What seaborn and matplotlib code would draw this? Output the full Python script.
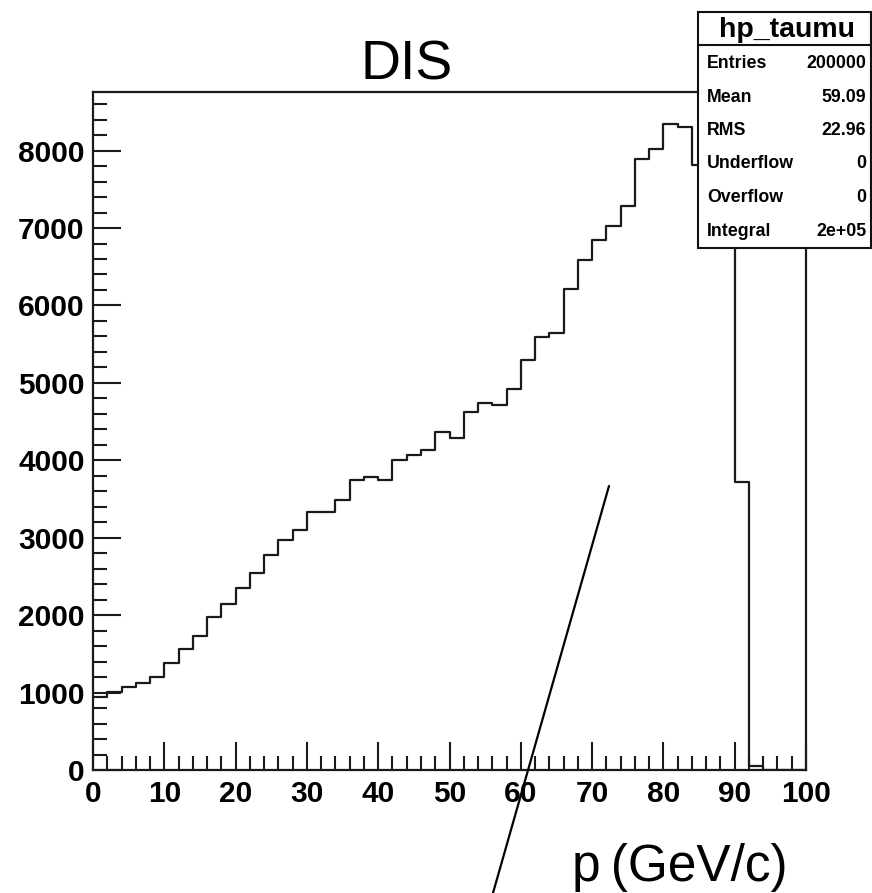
import numpy as np
import pandas as pd
import matplotlib
matplotlib.use("Agg")
import matplotlib.pyplot as plt
from matplotlib.patches import Rectangle
from matplotlib.lines import Line2D
from matplotlib.ticker import MultipleLocator
import seaborn as sns

# ---- data ----
bin_edges = list(range(0, 102, 2))  # 50 bins, width 2 GeV/c
bin_counts = [942, 1006, 1075, 1118, 1196, 1376, 1561, 1725, 1978, 2146,
              2348, 2538, 2774, 2968, 3097, 3330, 3330, 3484, 3742, 3780,
              3742, 4000, 4065, 4138, 4366, 4292, 4619, 4735, 4714, 4925,
              5290, 5587, 5638, 6219, 6593, 6848, 7027, 7285, 7893, 8026,
              8340, 8301, 7816, 8150, 8100, 3720, 55, 0, 0, 0]
title = "DIS"
xlabel = "p\u2009(GeV/c)"
stats_title = "hp_taumu"
stats_names = ["Entries", "Mean", "RMS", "Underflow", "Overflow", "Integral"]
stats_values = ["200000", "59.09", "22.96", "0", "0", "2e+05"]

sns.set_theme(style="white")
plt.rcParams["font.family"] = ["Liberation Sans", "DejaVu Sans"]
plt.rcParams["text.color"] = "black"
plt.rcParams["xtick.color"] = "black"
plt.rcParams["ytick.color"] = "black"
plt.rcParams["xtick.labelcolor"] = "black"
plt.rcParams["ytick.labelcolor"] = "black"

W, H = 872, 893
fig = plt.figure(figsize=(W / 100, H / 100), dpi=100)
fig.patch.set_facecolor("white")

def fx(px):
    return px / W

def fy(py):
    return 1 - py / H

ax = fig.add_axes([fx(93), fy(770), fx(806) - fx(93), fy(92) - fy(770)])

edges_arr = np.array(bin_edges, dtype=float)
centers = (edges_arr[:-1] + edges_arr[1:]) / 2
df = pd.DataFrame({"p": centers, "n": np.array(bin_counts, dtype=float)})
sns.histplot(data=df, x="p", weights="n", bins=bin_edges, element="step",
             fill=False, color="#1a1a1a", linewidth=1.6, ax=ax)

ax.set_xlim(0, 100)
ax.set_ylim(0, 1.05 * max(bin_counts))
ax.set_xlabel("")
ax.set_ylabel("")

ax.xaxis.set_major_locator(MultipleLocator(10))
ax.xaxis.set_minor_locator(MultipleLocator(2))
ax.yaxis.set_major_locator(MultipleLocator(1000))
ax.yaxis.set_minor_locator(MultipleLocator(200))
ax.tick_params(which="major", direction="in", length=20, width=1.5,
               labelsize=21.5, color="#1a1a1a", labelcolor="black",
               bottom=True, left=True, top=False, right=False)
ax.tick_params(which="minor", direction="in", length=10, width=1.5,
               color="#1a1a1a", bottom=True, left=True, top=False, right=False)
ax.tick_params(axis="x", pad=7)
ax.tick_params(axis="y", pad=6)
for lab in ax.get_xticklabels() + ax.get_yticklabels():
    lab.set_fontweight("bold")
for s in ax.spines.values():
    s.set_visible(True)
    s.set_color("#1a1a1a")
    s.set_linewidth(1.6)

# title and axis label
fig.text(fx(407), fy(80), title, ha="center", va="baseline", fontsize=40,
         color="black")
fig.text(fx(787), fy(881), xlabel, ha="right", va="baseline", fontsize=37,
         color="black")

# stats box
box = Rectangle((fx(698), fy(248)), fx(871) - fx(698), fy(12) - fy(248),
                transform=fig.transFigure, facecolor="white",
                edgecolor="#111111", linewidth=1.5, zorder=10)
fig.add_artist(box)
fig.add_artist(Line2D([fx(698), fx(871)], [fy(45), fy(45)],
                      transform=fig.transFigure, color="#111111",
                      linewidth=1.5, zorder=11))
fig.text(fx(787), fy(37), stats_title, ha="center", va="baseline",
         fontsize=20.5, fontweight="bold", color="black", zorder=12)
baselines = [68, 101.5, 135, 168.5, 202, 235.5]
for name, val, b in zip(stats_names, stats_values, baselines):
    fig.text(fx(707), fy(b), name, ha="left", va="baseline", fontsize=12.8,
             fontweight="bold", color="black", zorder=12)
    fig.text(fx(866), fy(b), val, ha="right", va="baseline", fontsize=12.8,
             fontweight="bold", color="black", zorder=12)

# hand-drawn diagonal stroke
fig.add_artist(Line2D([fx(609), fx(493)], [fy(486), fy(893)],
                      transform=fig.transFigure, color="black",
                      linewidth=1.6, zorder=12))

fig.savefig("out.png", dpi=100, facecolor="white")
